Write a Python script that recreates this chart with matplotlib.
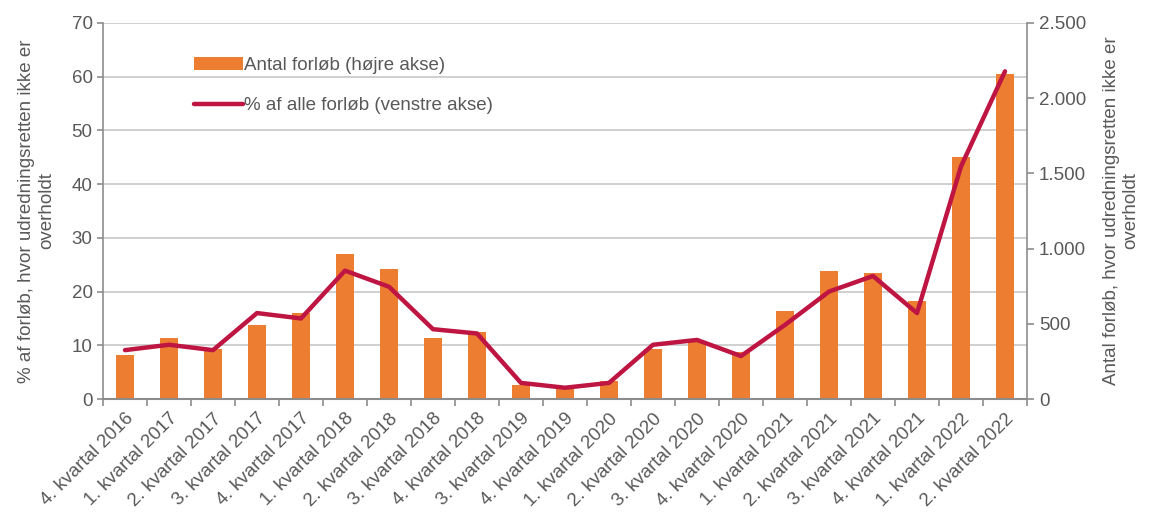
import matplotlib.pyplot as plt
from matplotlib.ticker import FuncFormatter, MultipleLocator
import numpy as np

plt.rcParams['font.family'] = ['Liberation Sans', 'DejaVu Sans']

kvartaler = ['4. kvartal 2016', '1. kvartal 2017', '2. kvartal 2017', '3. kvartal 2017',
             '4. kvartal 2017', '1. kvartal 2018', '2. kvartal 2018', '3. kvartal 2018',
             '4. kvartal 2018', '3. kvartal 2019', '4. kvartal 2019', '1. kvartal 2020',
             '2. kvartal 2020', '3. kvartal 2020', '4. kvartal 2020', '1. kvartal 2021',
             '2. kvartal 2021', '3. kvartal 2021', '4. kvartal 2021', '1. kvartal 2022',
             '2. kvartal 2022']
antal_forloeb = [290, 404, 330, 490, 570, 964, 864, 404, 445, 93, 75, 120,
                 335, 381, 315, 587, 851, 838, 652, 1611, 2163]
pct_forloeb = [9.1, 10.1, 9.1, 16.0, 15.0, 23.9, 20.9, 13.0, 12.2, 3.0, 2.1, 3.0,
               10.1, 11.0, 8.0, 13.8, 20.0, 22.9, 16.0, 43.3, 61.0]

ORANGE = '#ED7D31'
RED = '#BE1542'
GREY_TXT = '#595959'
GREY_AX = '#8C8C8C'

fig = plt.figure(figsize=(11.52, 5.26), dpi=100)
ax = fig.add_axes([0.0894, 0.2414, 0.8021, 0.7149])
ax2 = ax.twinx()

x = np.arange(len(kvartaler))

# søjler på højre akse
bars = ax2.bar(x, antal_forloeb, width=0.4, color=ORANGE, label='Antal forløb (højre akse)')
ax2.set_ylim(0, 2500)
ax2.yaxis.set_major_locator(MultipleLocator(500))
ax2.yaxis.set_major_formatter(FuncFormatter(lambda v, p: f'{int(v):,}'.replace(',', '.')))

# linje på venstre akse, ovenpå søjlerne
ax.set_zorder(ax2.get_zorder() + 1)
ax.patch.set_visible(False)
line, = ax.plot(x, pct_forloeb, color=RED, linewidth=3.2, solid_capstyle='round',
                solid_joinstyle='round', label='% af alle forløb (venstre akse)')
ax.set_ylim(0, 70)
ax.yaxis.set_major_locator(MultipleLocator(10))
ax.set_xlim(-0.5, len(kvartaler) - 0.5)

# gitterlinjer
for v in range(10, 71, 10):
    ax2.axhline(v * 2500 / 70, color='#C8C8C8', linewidth=1.2, zorder=0)

ax.set_xticks(x)
ax.set_xticklabels(kvartaler, rotation=45, ha='right', rotation_mode='anchor')
ax.set_xticks(np.arange(-0.5, len(kvartaler)), minor=True)
ax.tick_params(axis='x', which='major', length=0, pad=8)
ax.tick_params(axis='x', which='minor', length=5, color=GREY_AX, width=1.2)

for a in (ax, ax2):
    for s in a.spines.values():
        s.set_visible(False)
    a.tick_params(labelsize=13.5, labelcolor=GREY_TXT, color=GREY_AX, width=1.2)
ax.spines['left'].set_visible(True)
ax.spines['left'].set_color(GREY_AX)
ax.spines['left'].set_linewidth(1.2)
ax.spines['bottom'].set_visible(True)
ax.spines['bottom'].set_color(GREY_AX)
ax.spines['bottom'].set_linewidth(1.5)
ax2.spines['right'].set_visible(True)
ax2.spines['right'].set_color(GREY_AX)
ax2.spines['right'].set_linewidth(1.2)
ax.tick_params(axis='y', length=4)
ax2.tick_params(axis='y', length=5)

ax.set_ylabel('% af forløb, hvor udredningsretten ikke er\noverholdt', fontsize=13.5,
              color=GREY_TXT, labelpad=12)
ax2.set_ylabel('Antal forløb, hvor udredningsretten ikke er\noverholdt', fontsize=13.5,
               color=GREY_TXT, labelpad=12)

leg = ax.legend([bars, line], ['Antal forløb (højre akse)', '% af alle forløb (venstre akse)'],
                loc='upper left', bbox_to_anchor=(0.08, 0.955), frameon=False,
                fontsize=13.5, labelcolor=GREY_TXT, handlelength=2.6, handletextpad=0.1,
                labelspacing=1.25)

fig.savefig('out.png', dpi=100)
